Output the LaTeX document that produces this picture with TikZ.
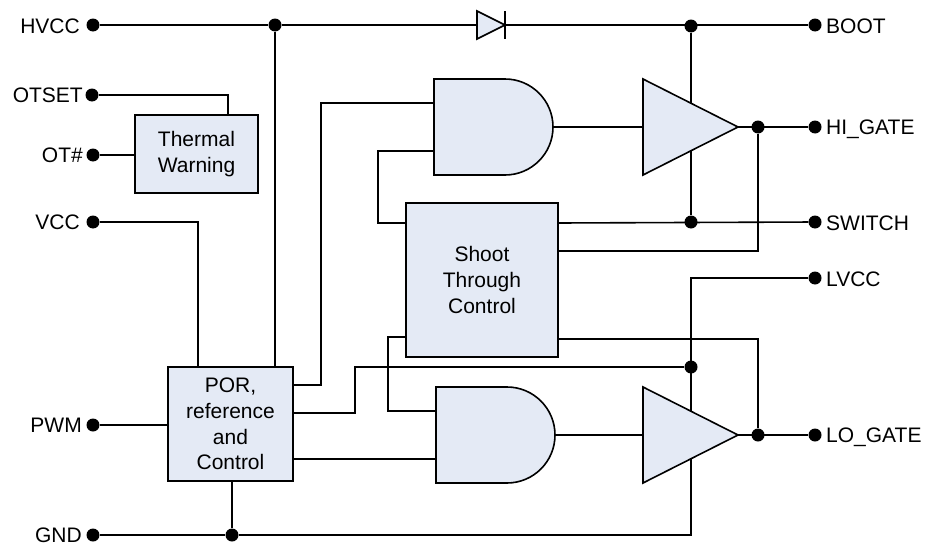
\documentclass[tikz,border=0pt]{standalone}
\usepackage{fontspec}
\setmainfont{Liberation Sans}
\usetikzlibrary{backgrounds}
\definecolor{blockfill}{HTML}{E4EAF5}
\tikzset{
  wire/.style={line width=1.6pt,black,line join=miter},
  dot/.style={circle,fill=black,draw=none,minimum size=13pt,inner sep=0pt},
  pinlabel/.style={font=\fontsize{21}{25}\selectfont,inner sep=0pt,anchor=base},
  blockbox/.style={draw=black,line width=1.6pt,fill=blockfill,inner sep=0pt,outer sep=0pt,align=center,
    font=\fontsize{21}{25.7}\selectfont,anchor=north west},
  gateshape/.style={draw=black,line width=1.6pt,fill=blockfill,line join=miter}
}
\begin{document}
\begin{tikzpicture}[x=1pt,y=-1pt]
\useasboundingbox (0,0) rectangle (927,546);
% blocks
\node[blockbox,minimum width=123pt,minimum height=78pt] (thermal) at (135,115) {Thermal\\Warning};
\node[blockbox,minimum width=125pt,minimum height=114pt] (por) at (168,367) {POR,\\reference\\and\\Control};
\node[blockbox,minimum width=152pt,minimum height=154pt] (shoot) at (406,203) {Shoot\\Through\\Control};
% gates
\draw[gateshape] (434,79) -- (505,79) .. controls (531.5,79) and (553,100.5) .. (553,127)
  .. controls (553,153.5) and (531.5,175) .. (505,175) -- (434,175) -- cycle;
\draw[gateshape] (436,387) -- (507,387) .. controls (533.5,387) and (555,408.5) .. (555,435)
  .. controls (555,461.5) and (533.5,483) .. (507,483) -- (436,483) -- cycle;
\coordinate (and1in1) at (434,103);
\coordinate (and1in2) at (434,151);
\coordinate (and1out) at (553,127);
\coordinate (and2in1) at (436,411);
\coordinate (and2in2) at (436,459);
\coordinate (and2out) at (555,435);
% drivers
\draw[gateshape] (643,79) -- (738,127) -- (643,175) -- cycle;
\draw[gateshape] (643,387) -- (738,435) -- (643,483) -- cycle;
\coordinate (drv1in) at (643,127);
\coordinate (drv1out) at (738,127);
\coordinate (drv1top) at (691,103);
\coordinate (drv1bot) at (691,151);
\coordinate (drv2in) at (643,435);
\coordinate (drv2out) at (738,435);
\coordinate (drv2top) at (691,411);
\coordinate (drv2bot) at (691,459);
% diode
\draw[gateshape] (477,11) -- (505,25) -- (477,39) -- cycle;
\coordinate (dioA) at (477,25);
\coordinate (dioK) at (505,25);
\coordinate (dioT) at (505,11);
\coordinate (dioB) at (505,39);
% pins
\node[dot] (hvcc) at (93,25) {};
\node[dot] (otset) at (92,95) {};
\node[dot] (ot) at (93,155) {};
\node[dot] (vcc) at (93,222) {};
\node[dot] (pwm) at (93,425) {};
\node[dot] (gnd) at (93,535) {};
\node[dot] (boot) at (815,25) {};
\node[dot] (higate) at (815,127) {};
\node[dot] (switch) at (815,222) {};
\node[dot] (lvcc) at (815,278) {};
\node[dot] (logate) at (815,435) {};
% junctions
\node[dot] (jh) at (275,25) {};
\node[dot] (jboot) at (691,26) {};
\node[dot] (jsw) at (691,222) {};
\node[dot] (jhi) at (758,127) {};
\node[dot] (jlv) at (691,367) {};
\node[dot] (jlo) at (758,435) {};
\node[dot] (jgnd) at (232,535) {};
% labels
\node[pinlabel,anchor=base east] (lhvcc) at (80,33) {HVCC};
\node[pinlabel,anchor=base east] (lotset) at (83,102) {OTSET};
\node[pinlabel,anchor=base east] (lot) at (83,162) {OT\#};
\node[pinlabel,anchor=base east] (lvccl) at (80,229) {VCC};
\node[pinlabel,anchor=base east] (lpwm) at (82,432) {PWM};
\node[pinlabel,anchor=base east] (lgnd) at (82,542) {GND};
\node[pinlabel,anchor=base west] (lboot) at (826,34) {BOOT};
\node[pinlabel,anchor=base west] (lhi) at (826,134) {HI\_GATE};
\node[pinlabel,anchor=base west] (lsw) at (826,230) {SWITCH};
\node[pinlabel,anchor=base west] (llv) at (826,286) {LVCC};
\node[pinlabel,anchor=base west] (llo) at (826,442) {LO\_GATE};
% wires
\begin{scope}[on background layer]
\draw[wire] (hvcc) -- (jh) -- (dioA);
\draw[wire] (dioK) -- (boot);
\draw[wire] (jh) -- (jh |- por.north);
\draw[wire] (otset) -| (228,115);
\draw[wire] (ot) -- (ot -| thermal.west);
\draw[wire] (vcc) -| (198,367);
\draw[wire] (pwm) -- (pwm -| por.west);
\draw[wire] (gnd) -- (jgnd);
\draw[wire] (jgnd) -- (jgnd |- por.south);
\draw[wire] (jgnd) -| (drv2bot);
\draw[wire] (293,385) -| (321,103) -- (and1in1);
\draw[wire] (293,413) -| (355,367) -- (jlv);
\draw[wire] (293,459) -- (and2in2);
\draw[wire] (and1in2) -| (378,223) -- (406,223);
\draw[wire] (406,337) -| (388,411) -- (and2in1);
\draw[wire] (and1out) -- (drv1in);
\draw[wire] (and2out) -- (drv2in);
\draw[wire] (drv1out) -- (higate);
\draw[wire] (drv2out) -- (logate);
\draw[wire] (jboot) -- (drv1top);
\draw[wire] (drv1bot) -- (jsw);
\draw[wire] (558,223) -- (switch);
\draw[wire] (558,251) -| (jhi);
\draw[wire] (558,339) -| (jlo);
\draw[wire] (lvcc) -| (drv2top);
\end{scope}
\draw[wire] (dioT) -- (dioB);
\end{tikzpicture}
\end{document}
